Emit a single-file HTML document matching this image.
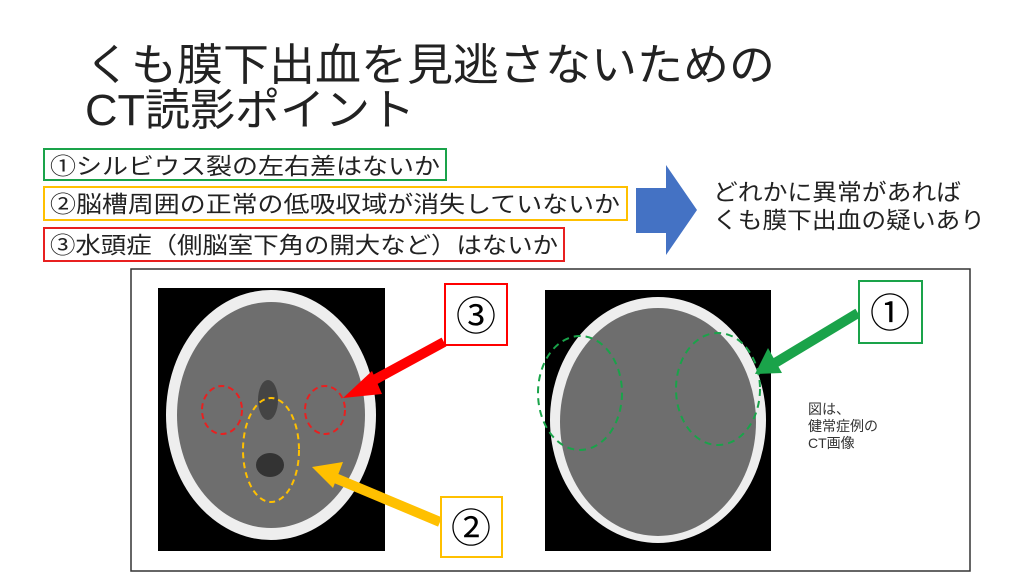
<!DOCTYPE html>
<html><head><meta charset="utf-8"><style>
body{margin:0;width:1024px;height:576px;background:#fff;overflow:hidden;font-family:"Liberation Sans","Noto Sans CJK JP",sans-serif;}
</style></head><body>
<svg width="1024" height="576" xmlns="http://www.w3.org/2000/svg" font-family="Liberation Sans, Noto Sans CJK JP, sans-serif">
<text x="85" y="80" font-size="44" fill="#222" textLength="690" lengthAdjust="spacingAndGlyphs">くも膜下出血を見逃さないための</text>
<text x="85" y="125" font-size="44" fill="#222" textLength="330" lengthAdjust="spacingAndGlyphs">CT読影ポイント</text>
<rect x="44" y="149" width="402" height="31" fill="none" stroke="#1aa34a" stroke-width="2"/>
<text x="50" y="174" font-size="23" fill="#222" textLength="390" lengthAdjust="spacingAndGlyphs">①シルビウス裂の左右差はないか</text>
<rect x="44" y="187" width="583" height="33" fill="none" stroke="#ffc000" stroke-width="2"/>
<text x="50" y="212" font-size="23" fill="#222" textLength="570" lengthAdjust="spacingAndGlyphs">②脳槽周囲の正常の低吸収域が消失していないか</text>
<rect x="44" y="228" width="520" height="33" fill="none" stroke="#e82020" stroke-width="2"/>
<text x="50" y="253" font-size="23" fill="#222" textLength="508" lengthAdjust="spacingAndGlyphs">③水頭症（側脳室下角の開大など）はないか</text>
<polygon points="636,188 666,188 666,165 697,210 666,255 666,233 636,233" fill="#4472c4"/>
<text x="713" y="200" font-size="23" fill="#222" textLength="248" lengthAdjust="spacingAndGlyphs">どれかに異常があれば</text>
<text x="713" y="228" font-size="23" fill="#222" textLength="272" lengthAdjust="spacingAndGlyphs">くも膜下出血の疑いあり</text>
<rect x="131" y="269" width="839" height="302" fill="#fff" stroke="#333" stroke-width="1.5"/>
<rect x="158" y="288" width="227" height="263" fill="#000"/>
<ellipse cx="271" cy="415" rx="105" ry="125" fill="#eee"/>
<ellipse cx="271" cy="415" rx="94" ry="113" fill="#6e6e6e"/>
<ellipse cx="270" cy="465" rx="14" ry="12" fill="#333"/>
<ellipse cx="268" cy="400" rx="10" ry="20" fill="#444"/>
<ellipse cx="222" cy="410" rx="20" ry="24" fill="none" stroke="#e82020" stroke-width="2" stroke-dasharray="6,4"/>
<ellipse cx="325" cy="410" rx="20" ry="24" fill="none" stroke="#e82020" stroke-width="2" stroke-dasharray="6,4"/>
<ellipse cx="271" cy="450" rx="28" ry="52" fill="none" stroke="#ffc000" stroke-width="2" stroke-dasharray="6,4"/>
<rect x="545" y="290" width="226" height="261" fill="#000"/>
<ellipse cx="658" cy="420" rx="108" ry="123" fill="#eee"/>
<ellipse cx="658" cy="422" rx="98" ry="114" fill="#6e6e6e"/>
<ellipse cx="580" cy="393" rx="42" ry="57" fill="none" stroke="#1aa34a" stroke-width="2" stroke-dasharray="7,5"/>
<ellipse cx="718" cy="389" rx="42" ry="56" fill="none" stroke="#1aa34a" stroke-width="2" stroke-dasharray="7,5"/>
<line x1="444" y1="342" x2="365" y2="385" stroke="#ff0000" stroke-width="10"/>
<polygon points="343,398 372,371 382,394" fill="#ff0000"/>
<line x1="440" y1="522" x2="335" y2="478" stroke="#ffc000" stroke-width="10"/>
<polygon points="312,467 343,462 333,488" fill="#ffc000"/>
<line x1="858" y1="313" x2="775" y2="363" stroke="#1aa34a" stroke-width="10"/>
<polygon points="755,374 768,348 782,373" fill="#1aa34a"/>
<rect x="445" y="284" width="62" height="61" fill="#fff" stroke="#ff0000" stroke-width="2"/>
<text x="476" y="330" font-size="40" text-anchor="middle" fill="#000">③</text>
<rect x="441" y="497" width="61" height="60" fill="#fff" stroke="#ffc000" stroke-width="2"/>
<text x="471" y="542" font-size="40" text-anchor="middle" fill="#000">②</text>
<rect x="859" y="281" width="63" height="62" fill="#fff" stroke="#1aa34a" stroke-width="2"/>
<text x="890" y="327" font-size="40" text-anchor="middle" fill="#000">①</text>
<text x="808" y="414" font-size="14" fill="#333">図は、</text>
<text x="808" y="431" font-size="14" fill="#333">健常症例の</text>
<text x="808" y="448" font-size="14" fill="#333">CT画像</text>
</svg>
</body></html>
